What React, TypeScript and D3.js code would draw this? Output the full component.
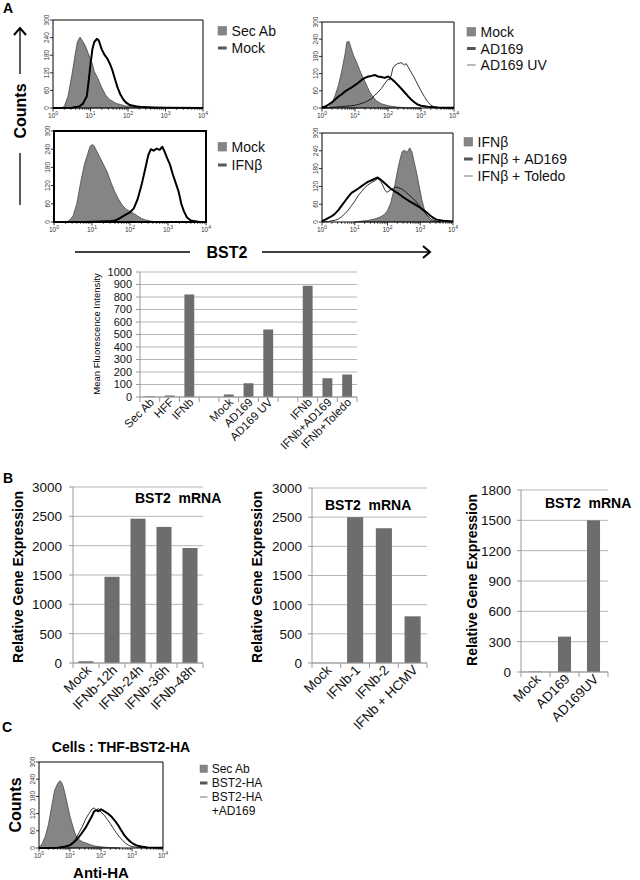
import React from 'react';
import * as d3 from 'd3';

type Pt = [number, number];

// ---------- Histogram data: [log10 intensity, counts] ----------
const tlSecAb: Pt[] = [[0.2,0],[0.3,5],[0.4,40],[0.5,110],[0.6,190],[0.65,225],[0.72,242],[0.78,230],[0.85,215],[0.9,200],[1.0,165],[1.05,150],[1.1,125],[1.2,100],[1.3,70],[1.4,45],[1.5,30],[1.6,22],[1.7,15],[1.8,12],[1.9,8],[2.0,6],[2.2,3],[2.5,1],[2.8,0]];
const tlMock: Pt[] = [[0,0],[0.5,1],[0.7,5],[0.8,15],[0.9,40],[0.95,90],[1.0,150],[1.05,200],[1.1,225],[1.17,236],[1.22,230],[1.3,200],[1.38,180],[1.45,168],[1.52,150],[1.58,130],[1.65,100],[1.72,70],[1.8,45],[1.88,28],[1.95,18],[2.05,10],[2.2,6],[2.4,3],[2.7,2],[3.0,1],[4,0]];

const trMock: Pt[] = [[0,0],[0.2,2],[0.3,15],[0.4,45],[0.5,80],[0.6,130],[0.7,190],[0.75,230],[0.82,232],[0.88,210],[0.95,185],[1.05,160],[1.15,130],[1.25,105],[1.35,80],[1.45,55],[1.55,38],[1.65,25],[1.8,15],[2.0,8],[2.3,3],[2.6,1],[3,0]];
const trAD169: Pt[] = [[0,2],[0.1,5],[0.2,12],[0.3,20],[0.4,30],[0.5,40],[0.6,48],[0.7,58],[0.8,65],[0.9,72],[1.0,80],[1.1,88],[1.2,98],[1.3,105],[1.4,110],[1.5,112],[1.6,115],[1.7,110],[1.8,108],[1.9,105],[2.0,110],[2.1,102],[2.2,92],[2.3,80],[2.4,68],[2.5,55],[2.6,42],[2.7,30],[2.8,20],[2.9,12],[3.0,8],[3.2,4],[3.5,2],[4,1]];
const trAD169UV: Pt[] = [[0,0],[0.3,2],[0.6,5],[0.9,8],[1.1,12],[1.3,20],[1.5,32],[1.6,45],[1.7,55],[1.8,68],[1.9,85],[2.0,100],[2.05,98],[2.1,115],[2.15,140],[2.22,150],[2.3,155],[2.4,158],[2.5,150],[2.55,155],[2.6,145],[2.7,125],[2.8,105],[2.9,82],[3.0,60],[3.1,40],[3.2,22],[3.3,10],[3.4,4],[3.6,1],[4,0]];

const mlMock: Pt[] = [[0.3,0],[0.4,5],[0.5,20],[0.6,60],[0.7,130],[0.8,190],[0.9,230],[0.95,250],[1.0,255],[1.05,252],[1.1,240],[1.2,215],[1.3,190],[1.4,165],[1.5,130],[1.6,100],[1.7,75],[1.8,55],[1.9,42],[2.0,35],[2.1,28],[2.2,20],[2.3,12],[2.4,7],[2.6,2],[2.9,0]];
const mlIFNb: Pt[] = [[0,0],[0.8,0],[1.2,2],[1.5,3],[1.6,5],[1.7,10],[1.8,18],[1.9,25],[2.0,32],[2.1,45],[2.2,75],[2.3,120],[2.4,175],[2.48,220],[2.55,240],[2.62,235],[2.7,242],[2.78,238],[2.85,248],[2.9,235],[2.98,210],[3.05,190],[3.12,160],[3.2,130],[3.28,100],[3.35,60],[3.42,35],[3.5,15],[3.6,5],[3.8,1],[4,0]];

const mrIFNb: Pt[] = [[1.0,0],[1.2,3],[1.4,5],[1.6,10],[1.8,18],[1.9,25],[2.0,38],[2.1,65],[2.2,110],[2.3,170],[2.38,210],[2.45,238],[2.52,242],[2.6,235],[2.68,250],[2.75,235],[2.82,200],[2.9,160],[2.98,115],[3.05,75],[3.12,45],[3.2,22],[3.3,8],[3.4,3],[3.6,0]];
const mrIFNbAD169: Pt[] = [[0,3],[0.1,8],[0.2,14],[0.3,20],[0.4,28],[0.5,40],[0.6,55],[0.7,70],[0.8,85],[0.9,98],[1.0,105],[1.1,112],[1.2,120],[1.3,128],[1.4,135],[1.5,140],[1.6,145],[1.7,150],[1.8,142],[1.9,132],[2.0,122],[2.1,112],[2.2,105],[2.3,98],[2.4,90],[2.5,82],[2.6,75],[2.7,68],[2.8,62],[2.9,55],[3.0,48],[3.1,40],[3.2,32],[3.3,22],[3.4,14],[3.5,8],[3.7,4],[4,2]];
const mrIFNbToledo: Pt[] = [[0,0],[0.2,2],[0.4,6],[0.5,10],[0.6,18],[0.7,28],[0.8,40],[0.9,55],[1.0,70],[1.1,88],[1.2,102],[1.3,115],[1.4,125],[1.5,132],[1.6,138],[1.7,146],[1.78,140],[1.85,125],[1.92,108],[1.98,100],[2.05,105],[2.15,112],[2.25,118],[2.35,115],[2.45,110],[2.55,102],[2.65,92],[2.75,82],[2.85,72],[2.95,58],[3.05,45],[3.15,30],[3.25,18],[3.35,8],[3.5,3],[3.7,0]];

const cSecAb: Pt[] = [[0,3],[0.05,8],[0.1,15],[0.2,40],[0.3,80],[0.4,140],[0.5,200],[0.6,225],[0.68,235],[0.72,230],[0.78,215],[0.85,185],[0.92,150],[1.0,110],[1.08,80],[1.15,55],[1.22,38],[1.3,28],[1.4,22],[1.5,18],[1.6,14],[1.7,10],[1.8,7],[2.0,4],[2.3,1],[2.6,0]];
const cBST2HA: Pt[] = [[0,0],[0.6,1],[0.8,4],[1.0,10],[1.1,18],[1.2,28],[1.3,40],[1.4,55],[1.5,70],[1.6,90],[1.7,110],[1.78,128],[1.85,132],[1.92,128],[2.0,135],[2.08,130],[2.15,125],[2.25,118],[2.35,108],[2.45,95],[2.55,80],[2.65,62],[2.75,45],[2.85,32],[2.95,22],[3.05,14],[3.15,9],[3.3,5],[3.5,2],[4,1]];
const cBST2HA_AD169: Pt[] = [[0,0],[0.8,2],[1.0,8],[1.1,18],[1.2,35],[1.3,55],[1.4,75],[1.5,100],[1.6,118],[1.7,135],[1.78,140],[1.85,132],[1.92,138],[2.0,125],[2.1,115],[2.2,100],[2.3,85],[2.4,68],[2.5,52],[2.6,38],[2.7,26],[2.8,16],[2.9,9],[3.0,5],[3.2,2],[3.5,0]];

const histLogTicks = [0, 1, 2, 3, 4];
const histCountTicks = [0, 60, 120, 180, 240, 300];

// ---------- Bar chart data ----------
const mfiCategories = ['Sec Ab', 'HFF', 'IFNb', '', 'Mock', 'AD169', 'AD169 UV', '', 'IFNb', 'IFNb+AD169', 'IFNb+Toledo'];
const mfiValues = [5, 12, 820, 0, 20, 110, 540, 0, 890, 150, 180];
const mfiTicks = [0, 100, 200, 300, 400, 500, 600, 700, 800, 900, 1000];

const b1Categories = ['Mock', 'IFNb-12h', 'IFNb-24h', 'IFNb-36h', 'IFNb-48h'];
const b1Values = [30, 1470, 2460, 2320, 1960];
const b1Ticks = [0, 500, 1000, 1500, 2000, 2500, 3000];

const b2Categories = ['Mock', 'IFNb-1', 'IFNb-2', 'IFNb + HCMV'];
const b2Values = [0, 2500, 2310, 800];
const b2Ticks = [0, 500, 1000, 1500, 2000, 2500, 3000];

const b3Categories = ['Mock', 'AD169', 'AD169UV'];
const b3Values = [5, 350, 1500];
const b3Ticks = [0, 300, 600, 900, 1200, 1500, 1800];

const FONT = 'Liberation Sans, Arial, Helvetica, sans-serif';
const FILL = '#858585';
const BAR = '#6d6d6d';

type Curve = { data: Pt[]; kind: 'fill' | 'thick' | 'thin' };

function Histogram({ x, y, w, h, curves, thickBox }: { x: number; y: number; w: number; h: number; curves: Curve[]; thickBox?: boolean }) {
  const xs = d3.scaleLinear().domain([0, 4]).range([x, x + w]);
  const ys = d3.scaleLinear().domain([0, 300]).range([y + h, y]);
  const area = d3.area<Pt>().x(d => xs(d[0])).y0(ys(0)).y1(d => ys(d[1]));
  const line = d3.line<Pt>().x(d => xs(d[0])).y(d => ys(d[1]));
  const minor: number[] = [];
  for (let k = 0; k < 4; k++) for (let m = 2; m < 10; m++) minor.push(k + Math.log10(m));
  const order = { fill: 0, thin: 1, thick: 2 };
  const sorted = [...curves].sort((a, b) => order[a.kind] - order[b.kind]);
  return (
    <g>
      {sorted.map((c, i) =>
        c.kind === 'fill' ? (
          <path key={i} d={area(c.data) || ''} fill={FILL} stroke="#3a3a3a" strokeWidth={0.7} />
        ) : (
          <path key={i} d={line(c.data) || ''} fill="none" stroke="#000" strokeWidth={c.kind === 'thick' ? 2 : 0.8} strokeLinejoin="round" />
        )
      )}
      {thickBox ? (
        <rect x={x} y={y} width={w} height={h} fill="none" stroke="#000" strokeWidth={2} />
      ) : (
        <g stroke="#000" strokeWidth={1} fill="none">
          <line x1={x} y1={y} x2={x + w} y2={y} />
          <line x1={x + w} y1={y} x2={x + w} y2={y + h} />
          <line x1={x} y1={y} x2={x} y2={y + h} />
          <line x1={x} y1={y + h} x2={x + w} y2={y + h} />
        </g>
      )}
      {histCountTicks.map(t => (
        <g key={t}>
          <line x1={x - 3} x2={x} y1={ys(t)} y2={ys(t)} stroke="#000" strokeWidth={0.8} />
          <text transform={`translate(${x - 4},${ys(t)}) rotate(-90)`} textAnchor="middle" fontSize={6.5} fontFamily={FONT} fill="#333">{t}</text>
        </g>
      ))}
      {minor.map((m, i) => (
        <line key={i} x1={xs(m)} x2={xs(m)} y1={y + h} y2={y + h + 2} stroke="#000" strokeWidth={0.6} />
      ))}
      {histLogTicks.map(k => (
        <g key={k}>
          <line x1={xs(k)} x2={xs(k)} y1={y + h} y2={y + h + 3.5} stroke="#000" strokeWidth={0.8} />
          <text x={xs(k)} y={y + h + 10} textAnchor="middle" fontSize={6.5} fontFamily={FONT} fill="#333">
            10<tspan dy={-3} fontSize={5}>{k}</tspan>
          </text>
        </g>
      ))}
    </g>
  );
}

type LegendItem = { label: string[]; kind: 'fill' | 'thick' | 'thin' };

function Legend({ x, y, items, fs, gap }: { x: number; y: number; items: LegendItem[]; fs: number; gap: number }) {
  let cy = y;
  return (
    <g fontFamily={FONT} fontSize={fs} fill="#111">
      {items.map((it, i) => {
        const yy = cy;
        cy += gap * it.label.length;
        return (
          <g key={i}>
            {it.kind === 'fill' && <rect x={x} y={yy - fs * 0.33} width={fs * 0.62} height={fs * 0.62} fill={FILL} stroke="#777" strokeWidth={0.5} />}
            {it.kind === 'thick' && <rect x={x} y={yy - 1.5} width={fs * 0.62} height={3} fill="#555" />}
            {it.kind === 'thin' && <rect x={x} y={yy - 0.5} width={fs * 0.62} height={1} fill="#777" />}
            {it.label.map((l, j) => (
              <text key={j} x={x + fs * 0.62 + fs * 0.35} y={yy + fs * 0.36 + j * gap}>{l}</text>
            ))}
          </g>
        );
      })}
    </g>
  );
}

function BarChart({ cats, vals, ticks, x0, x1, yTop, yBase, pad, tickFs, catFs, catDx, catDy, tickGap }: {
  cats: string[]; vals: number[]; ticks: number[]; x0: number; x1: number; yTop: number; yBase: number; pad: number; tickFs: number; catFs: number; catDx: number; catDy: number; tickGap: number;
}) {
  const idx = cats.map((_, i) => String(i));
  const xb = d3.scaleBand().domain(idx).range([x0, x1]).paddingInner(pad).paddingOuter(pad / 2);
  const step = xb.step();
  const ys = d3.scaleLinear().domain([0, ticks[ticks.length - 1]]).range([yBase, yTop]);
  return (
    <g fontFamily={FONT}>
      {ticks.map(t => (
        <g key={t}>
          <line x1={x0} x2={x1} y1={ys(t)} y2={ys(t)} stroke="#b5b5b5" strokeWidth={1} />
          <line x1={x0 - 4} x2={x0} y1={ys(t)} y2={ys(t)} stroke="#999" strokeWidth={1} />
          <text x={x0 - tickGap} y={ys(t) + tickFs * 0.36} textAnchor="end" fontSize={tickFs} fill="#111">{t}</text>
        </g>
      ))}
      <line x1={x0} x2={x0} y1={yTop} y2={yBase} stroke="#999" strokeWidth={1} />
      {vals.map((v, i) => (
        <rect key={i} x={xb(String(i))} y={ys(v)} width={xb.bandwidth()} height={yBase - ys(v)} fill={BAR} />
      ))}
      <line x1={x0} x2={x1} y1={yBase} y2={yBase} stroke="#999" strokeWidth={1} />
      {d3.range(cats.length + 1).map(i => (
        <line key={i} x1={x0 + i * step} x2={x0 + i * step} y1={yBase} y2={yBase + 5} stroke="#999" strokeWidth={1} />
      ))}
      {cats.map((c, i) => (
        <text key={i} transform={`translate(${(xb(String(i)) || 0) + xb.bandwidth() / 2 + catDx},${yBase + catDy}) rotate(-45)`} textAnchor="end" fontSize={catFs} fill="#111">{c}</text>
      ))}
    </g>
  );
}

export default function App() {
  return (
    <svg width={640} height={880} style={{ position: 'absolute', left: 0, top: 0, background: '#fff' }} fontFamily={FONT}>
      <rect x={0} y={0} width={640} height={880} fill="#fff" />
      {/* Panel A */}
      <text x={3} y={13} fontSize={14} fontWeight="bold">A</text>
      <line x1={20} x2={20} y1={28} y2={74} stroke="#000" strokeWidth={1.3} />
      <path d="M14,35 L20,28 L26,35" fill="none" stroke="#000" strokeWidth={2} />
      <text transform="translate(26,111) rotate(-90)" textAnchor="middle" fontSize={16} fontWeight="bold">Counts</text>
      <line x1={20} x2={20} y1={153} y2={205} stroke="#000" strokeWidth={1.3} />

      <Histogram x={53} y={20} w={150} h={88} curves={[{ data: tlSecAb, kind: 'fill' }, { data: tlMock, kind: 'thick' }]} />
      <Legend x={218} y={31} fs={14} gap={17} items={[{ label: ['Sec Ab'], kind: 'fill' }, { label: ['Mock'], kind: 'thick' }]} />

      <Histogram x={322} y={22} w={132} h={86} curves={[{ data: trMock, kind: 'fill' }, { data: trAD169, kind: 'thick' }, { data: trAD169UV, kind: 'thin' }]} />
      <Legend x={467} y={32} fs={14} gap={16.5} items={[{ label: ['Mock'], kind: 'fill' }, { label: ['AD169'], kind: 'thick' }, { label: ['AD169 UV'], kind: 'thin' }]} />

      <Histogram x={54} y={131} w={152} h={91} curves={[{ data: mlMock, kind: 'fill' }, { data: mlIFNb, kind: 'thick' }]} thickBox />
      <Legend x={218} y={147} fs={14} gap={18} items={[{ label: ['Mock'], kind: 'fill' }, { label: ['IFNβ'], kind: 'thick' }]} />

      <Histogram x={322} y={133} w={131} h={89} curves={[{ data: mrIFNb, kind: 'fill' }, { data: mrIFNbAD169, kind: 'thick' }, { data: mrIFNbToledo, kind: 'thin' }]} />
      <Legend x={464} y={142} fs={14} gap={17} items={[{ label: ['IFNβ'], kind: 'fill' }, { label: ['IFNβ + AD169'], kind: 'thick' }, { label: ['IFNβ + Toledo'], kind: 'thin' }]} />

      <line x1={75} x2={190} y1={252} y2={252} stroke="#000" strokeWidth={1.3} />
      <text x={227} y={258} textAnchor="middle" fontSize={16} fontWeight="bold">BST2</text>
      <line x1={262} x2={430} y1={252} y2={252} stroke="#000" strokeWidth={1.3} />
      <path d="M423,246 L430,252 L423,258" fill="none" stroke="#000" strokeWidth={2} />

      <BarChart cats={mfiCategories} vals={mfiValues} ticks={mfiTicks} x0={140} x1={357} yTop={272} yBase={397} pad={0.5} tickFs={11} catFs={11.5} catDx={5} catDy={6} tickGap={8} />
      <text transform="translate(100,334) rotate(-90)" textAnchor="middle" fontSize={9.5}>Mean Fluorescence Intensity</text>

      {/* Panel B */}
      <text x={3} y={483} fontSize={14} fontWeight="bold">B</text>
      <BarChart cats={b1Categories} vals={b1Values} ticks={b1Ticks} x0={73} x1={203} yTop={487} yBase={663} pad={0.42} tickFs={13.5} catFs={13.5} catDx={6} catDy={8} tickGap={11} />
      <text transform="translate(23,577) rotate(-90)" textAnchor="middle" fontSize={14} fontWeight="bold">Relative Gene Expression</text>
      <text x={135} y={503} fontSize={14} fontWeight="bold" style={{ whiteSpace: 'pre' }}>{'BST2  mRNA'}</text>

      <BarChart cats={b2Categories} vals={b2Values} ticks={b2Ticks} x0={312} x1={427} yTop={488} yBase={663} pad={0.44} tickFs={13.5} catFs={13.5} catDx={6} catDy={8} tickGap={10} />
      <text transform="translate(262,577) rotate(-90)" textAnchor="middle" fontSize={14} fontWeight="bold">Relative Gene Expression</text>
      <text x={325} y={510} fontSize={14} fontWeight="bold" style={{ whiteSpace: 'pre' }}>{'BST2  mRNA'}</text>

      <BarChart cats={b3Categories} vals={b3Values} ticks={b3Ticks} x0={521} x1={608} yTop={490} yBase={672} pad={0.55} tickFs={13.5} catFs={13.5} catDx={6} catDy={8} tickGap={10} />
      <text transform="translate(477,580) rotate(-90)" textAnchor="middle" fontSize={14} fontWeight="bold">Relative Gene Expression</text>
      <text x={545} y={508} fontSize={14} fontWeight="bold" style={{ whiteSpace: 'pre' }}>{'BST2  mRNA'}</text>

      {/* Panel C */}
      <text x={2} y={732} fontSize={14} fontWeight="bold">C</text>
      <text x={121} y={752} textAnchor="middle" fontSize={14} fontWeight="bold">Cells : THF-BST2-HA</text>
      <Histogram x={39} y={762} w={124} h={86} curves={[{ data: cSecAb, kind: 'fill' }, { data: cBST2HA, kind: 'thick' }, { data: cBST2HA_AD169, kind: 'thin' }]} />
      <text transform="translate(21,805) rotate(-90)" textAnchor="middle" fontSize={16} fontWeight="bold">Counts</text>
      <text x={101} y={878} textAnchor="middle" fontSize={15} fontWeight="bold">Anti-HA</text>
      <Legend x={200} y={769} fs={12} gap={14} items={[{ label: ['Sec Ab'], kind: 'fill' }, { label: ['BST2-HA'], kind: 'thick' }, { label: ['BST2-HA', '+AD169'], kind: 'thin' }]} />
    </svg>
  );
}
